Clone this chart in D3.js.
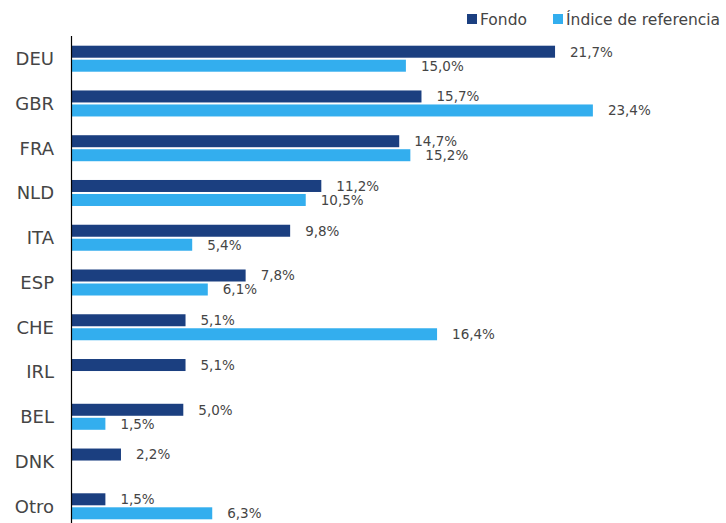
<!DOCTYPE html>
<html><head><meta charset="utf-8">
<script src="https://cdn.jsdelivr.net/npm/d3@7"></script>
<style>body{margin:0;background:#fff;} svg{display:block;}</style>
</head><body>
<svg id="chart" width="726" height="523"></svg>
<script>
const categories = ["DEU","GBR","FRA","NLD","ITA","ESP","CHE","IRL","BEL","DNK","Otro"];
const fondo = [21.7,15.7,14.7,11.2,9.8,7.8,5.1,5.1,5.0,2.2,1.5];
const indice = [15.0,23.4,15.2,10.5,5.4,6.1,16.4,null,1.5,null,6.3];
const seriesNames = ["Fondo","Índice de referencia"];
const colors = ["#1b3f80","#33aeee"];

const svg = d3.select("#chart");
const font = "'DejaVu Sans', sans-serif";
const textColor = "#454545";

const x = d3.scaleLinear().domain([0,25]).range([72, 72+25*22.26]);
const y = d3.scaleBand().domain(categories).range([45.7,519.3]).paddingInner(0.419).paddingOuter(0);
const ys = d3.scaleBand().domain([0,1]).range([0,y.bandwidth()]).paddingInner(0.143);

const fmt = v => d3.format(".1f")(v).replace(".", ",") + "%";

const data = [];
categories.forEach((c,i) => {
  [fondo[i], indice[i]].forEach((v,s) => { if (v != null) data.push({c, s, v}); });
});

const g = svg.append("g");
g.selectAll("rect.bar").data(data).join("rect")
  .attr("class","bar")
  .attr("x", x(0))
  .attr("y", d => y(d.c) + ys(d.s))
  .attr("width", d => x(d.v) - x(0))
  .attr("height", ys.bandwidth())
  .attr("fill", d => colors[d.s]);

g.selectAll("text.val").data(data).join("text")
  .attr("class","val")
  .attr("x", d => x(d.v) + 15)
  .attr("y", d => y(d.c) + ys(d.s) + ys.bandwidth()/2)
  .attr("dy","0.36em")
  .attr("font-family", font)
  .attr("font-size", 13.5)
  .attr("fill", textColor)
  .text(d => fmt(d.v));

// category labels
svg.append("g").selectAll("text").data(categories).join("text")
  .attr("x", 54)
  .attr("y", d => y(d) + y.bandwidth()/2)
  .attr("dy","0.36em")
  .attr("text-anchor","end")
  .attr("font-family", font)
  .attr("font-size", 18)
  .attr("fill", textColor)
  .text(d => d);

// axis line
svg.append("line")
  .attr("x1", 71.5).attr("x2", 71.5)
  .attr("y1", 36).attr("y2", 523)
  .attr("stroke", "#000").attr("stroke-width", 1.2);

// legend
const legX = [467, 553];
const leg = svg.append("g").selectAll("g").data(seriesNames).join("g")
  .attr("transform", (d,i) => `translate(${legX[i]},14)`);
leg.append("rect").attr("width",10).attr("height",10).attr("fill",(d,i)=>colors[i]);
leg.append("text").attr("x",13).attr("y",5).attr("dy","0.36em")
  .attr("font-family", font).attr("font-size",15.5).attr("fill",textColor)
  .text(d => d);
</script>
</body></html>
